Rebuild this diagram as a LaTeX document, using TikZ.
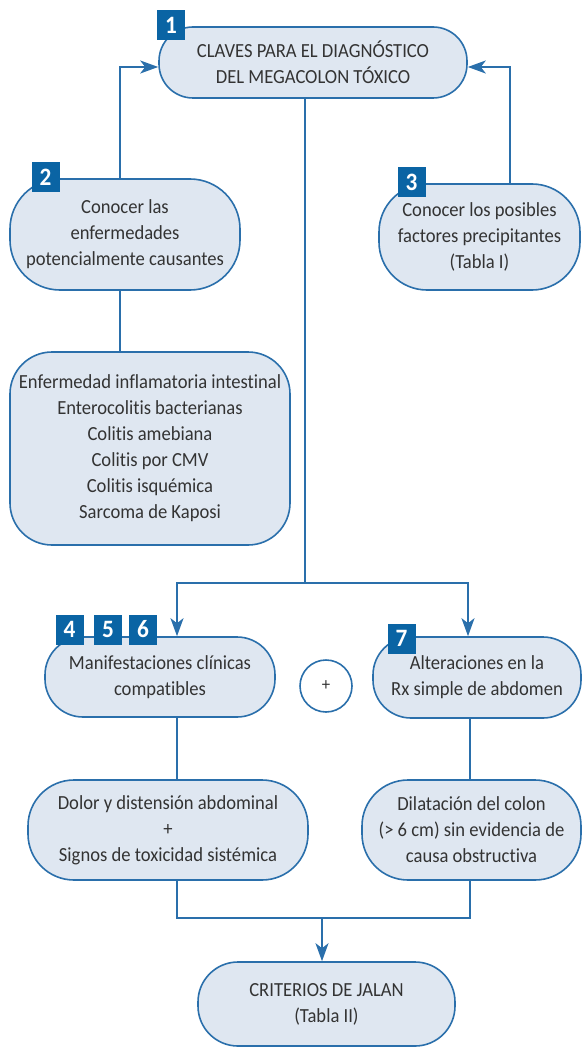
\documentclass[tikz,border=0pt]{standalone}
\usepackage{fontspec}
\setmainfont[Ligatures=NoCommon, FakeStretch=0.93]{Carlito}
\usepackage{tikz}
\usetikzlibrary{arrows.meta, positioning, calc}
\definecolor{linec}{HTML}{2A6FAB}
\definecolor{boxc}{HTML}{DFE7F1}
\definecolor{badgec}{HTML}{0A64A4}
\definecolor{txtc}{HTML}{333333}

\begin{document}
\begin{tikzpicture}[
  x=0.5pt, y=-0.5pt,
  box/.style={draw=linec, line width=0.8pt, fill=boxc, rounded corners=17pt, align=center,
    text=txtc, inner sep=2pt, font=\fontsize{10}{13}\selectfont},
  badge/.style={fill=badgec, text=white, minimum width=14pt, minimum height=15pt, inner sep=0pt,
    font=\fontsize{12.5}{12.5}\selectfont\bfseries},
  conn/.style={draw=linec, line width=1pt},
  arr/.style={conn, -{Stealth[length=9pt, width=6.5pt, inset=2.5pt]}}
]
\useasboundingbox (0,0) rectangle (582,1048);

% main question
\node[box, minimum width=154pt, minimum height=35.5pt] (clave) at (313,62.5) {CLAVES PARA EL DIAGNÓSTICO\\DEL MEGACOLON TÓXICO};
\node[badge] (b1) at (171,25) {1};

% the two things to know
\node[box, minimum width=115pt, minimum height=55.5pt, rounded corners=25pt] (causa) at (125,234.5) {Conocer las\\enfermedades\\potencialmente causantes};
\node[badge] (b2) at (45.5,177.5) {2};
\node[box, minimum width=100.5pt, minimum height=53pt, rounded corners=24pt] (factor) at (479.5,237) {Conocer los posibles\\factores precipitantes\\(Tabla I)};
\node[badge] (b3) at (411.5,182.5) {3};

\node[box, minimum width=140pt, minimum height=96.5pt, rounded corners=21pt] (lista) at (150,448.5) {Enfermedad inflamatoria intestinal\\Enterocolitis bacterianas\\Colitis amebiana\\Colitis por CMV\\Colitis isquémica\\Sarcoma de Kaposi};

% clinic + radiology
\node[box, minimum width=115pt, minimum height=40pt, rounded corners=19pt] (clin) at (160,677) {Manifestaciones clínicas\\compatibles};
\node[badge] (b4) at (69.5,629.5) {4};
\node[badge] (b5) at (108,629.5) {5};
\node[badge] (b6) at (143,629.5) {6};
\node[draw=linec, line width=0.8pt, circle, minimum size=26pt, inner sep=0pt, text=txtc, font=\small] (plus) at (326,686) {+};
\node[box, minimum width=104pt, minimum height=40.5pt, rounded corners=19pt] (rx) at (477,677.5) {Alteraciones en la\\Rx simple de abdomen};
\node[badge] (b7) at (401.5,638.5) {7};

\node[box, minimum width=140pt, minimum height=50pt, rounded corners=23pt] (dolor) at (168,830) {Dolor y distensión abdominal\\+\\Signos de toxicidad sistémica};
\node[box, minimum width=109.5pt, minimum height=50pt, rounded corners=23pt] (dilat) at (471.5,830) {Dilatación del colon\\(> 6 cm) sin evidencia de\\causa obstructiva};

\node[box, minimum width=128.5pt, minimum height=42pt, rounded corners=20pt] (jalan) at (326.5,1004) {CRITERIOS DE JALAN\\(Tabla II)};

\coordinate (split) at (305,583);
\coordinate (join) at (322,918);

\draw[arr] ([xshift=-2.5pt]causa.north) |- ([yshift=-2.25pt]clave.west);
\draw[arr] ([xshift=15.25pt]factor.north) |- ([yshift=-2.25pt]clave.east);
\draw[conn] ([xshift=-2.5pt]causa.south) -- ([xshift=-2.5pt]causa.south |- lista.north);
\draw[conn] (clave.south -| split) -- (split);
\draw[arr] (split) -| ([xshift=8.5pt]clin.north);
\draw[arr] (split) -| ([xshift=-4.5pt]rx.north);
\draw[conn] ([xshift=8.5pt]clin.south) -- ([xshift=8.5pt]clin.south |- dolor.north);
\draw[conn] ([xshift=-3.5pt]rx.south) -- ([xshift=-3.5pt]rx.south |- dilat.north);
\draw[conn] ([xshift=4.5pt]dolor.south) |- (join) -| ([xshift=-0.75pt]dilat.south);
\draw[arr] (join) -- (join |- jalan.north);
\end{tikzpicture}
\end{document}
